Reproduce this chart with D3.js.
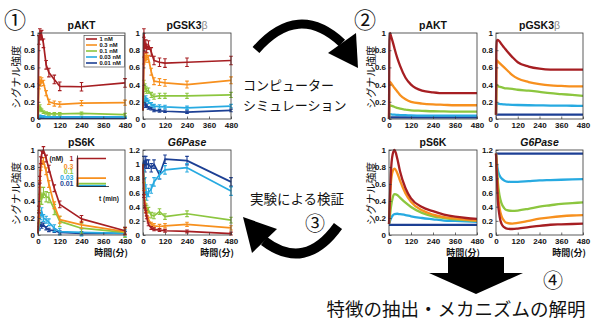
<!DOCTYPE html>
<html><head><meta charset="utf-8">
<script src="https://cdn.jsdelivr.net/npm/d3@7"></script>
<style>body{margin:0;background:#fff}svg{display:block}</style>
</head><body><svg id="c" width="591" height="322"></svg>
<script>
const doses = ["1 nM","0.3 nM","0.1 nM","0.03 nM","0.01 nM"];
const doseShort = ["1","0.3","0.1","0.03","0.01"];
const insetLevels = [1,0.3,0.1,0.03,0.01];
const colors = ["#a61e22","#f7901e","#8cc63f","#27aae1","#1c3f94"];
const xTicks = [0,120,240,360,480];
const yTicks1 = [0,0.2,0.4,0.6,0.8,1];
const yTicks12 = [0,0.2,0.4,0.6,0.8,1,1.2];

// experimental time points (min)
const expTime = [0,5,10,15,20,30,45,60,90,120,240,480];
const expAKT = [
  [0,0.92,1.0,0.97,0.98,0.88,0.63,0.54,0.46,0.38,0.375,0.42],
  [0,0.38,0.46,0.41,0.45,0.42,0.30,0.20,0.18,0.17,0.185,0.19],
  [0,0.12,0.15,0.11,0.10,0.08,0.07,0.06,0.06,0.06,0.065,0.05],
  [0,0.03,0.04,0.035,0.03,0.03,0.025,0.025,0.025,0.025,0.025,0.025],
  [0,0.01,0.015,0.012,0.01,0.01,0.01,0.01,0.01,0.01,0.01,0.01]
];
const errAKT = [0.05,0.03,0.015,0.006,0.004];
const expGSK = [
  [0.1,1.0,0.83,0.87,0.82,0.86,0.78,0.68,0.66,0.65,0.66,0.68],
  [0.1,0.68,0.72,0.70,0.73,0.70,0.55,0.44,0.43,0.42,0.40,0.45],
  [0.1,0.42,0.38,0.35,0.33,0.33,0.28,0.26,0.27,0.27,0.27,0.28],
  [0.1,0.24,0.22,0.25,0.22,0.20,0.17,0.15,0.145,0.14,0.13,0.15],
  [0.1,0.18,0.20,0.15,0.16,0.13,0.12,0.10,0.095,0.09,0.08,0.10]
];
const errGSK = [0.05,0.04,0.03,0.02,0.015];
const expS6K = [
  [0.02,0.3,0.65,0.88,0.95,1.0,0.9,0.78,0.55,0.36,0.19,0.05],
  [0.02,0.25,0.6,0.8,0.84,0.87,0.75,0.6,0.35,0.18,0.12,0.04],
  [0.02,0.2,0.42,0.5,0.42,0.5,0.45,0.44,0.3,0.16,0.08,0.03],
  [0.02,0.1,0.25,0.22,0.28,0.2,0.18,0.15,0.08,0.04,0.03,0.02],
  [0.02,0.08,0.12,0.13,0.10,0.12,0.08,0.06,0.05,0.03,0.02,0.02]
];
const errS6K = [0.04,0.04,0.06,0.04,0.02];
const expG6P = [
  [1.0,0.55,0.4,0.33,0.25,0.15,0.1,0.08,0.07,0.06,0.05,0.02],
  [1.0,0.6,0.42,0.35,0.3,0.22,0.15,0.13,0.12,0.13,0.15,0.1],
  [1.0,0.7,0.45,0.4,0.38,0.35,0.28,0.27,0.33,0.26,0.3,0.21],
  [1.0,0.85,0.75,0.65,0.55,0.6,0.65,0.75,0.85,0.92,0.95,0.62],
  [1.0,1.05,0.95,1.05,1.0,1.0,0.95,1.0,0.85,1.07,1.05,0.75]
];
const errG6P = [0.02,0.03,0.04,0.06,0.06];

// simulation time points (min)
const simTime = [0,2,5,10,20,30,45,60,90,120,180,240,300,360,420,480];
const simAKT = [
  [0,0.85,1.0,0.97,0.9,0.82,0.71,0.62,0.48,0.40,0.33,0.31,0.30,0.30,0.30,0.30],
  [0,0.38,0.43,0.42,0.39,0.36,0.32,0.28,0.23,0.20,0.18,0.17,0.165,0.16,0.16,0.16],
  [0,0.14,0.16,0.155,0.15,0.14,0.13,0.12,0.11,0.10,0.095,0.09,0.088,0.086,0.085,0.085],
  [0,0.05,0.055,0.055,0.05,0.05,0.048,0.046,0.044,0.042,0.04,0.04,0.04,0.04,0.04,0.04],
  [0,0.02,0.02,0.02,0.02,0.02,0.02,0.02,0.02,0.02,0.02,0.02,0.02,0.02,0.02,0.02]
];
const simGSK = [
  [0.05,0.8,0.91,0.92,0.9,0.87,0.83,0.79,0.72,0.66,0.61,0.585,0.575,0.575,0.575,0.575],
  [0.05,0.6,0.68,0.67,0.65,0.63,0.6,0.57,0.51,0.47,0.43,0.405,0.39,0.385,0.38,0.38],
  [0.05,0.35,0.40,0.38,0.375,0.37,0.36,0.355,0.35,0.34,0.33,0.315,0.30,0.29,0.28,0.27],
  [0.05,0.16,0.18,0.178,0.175,0.172,0.17,0.168,0.165,0.163,0.16,0.158,0.156,0.155,0.154,0.153],
  [0.05,0.05,0.05,0.05,0.05,0.05,0.05,0.05,0.05,0.05,0.05,0.05,0.05,0.05,0.05,0.05]
];
const simS6K = [
  [0.13,0.25,0.45,0.72,0.95,1.0,0.9,0.75,0.55,0.43,0.33,0.28,0.24,0.215,0.2,0.19],
  [0.13,0.22,0.38,0.6,0.75,0.78,0.73,0.64,0.49,0.39,0.29,0.24,0.21,0.195,0.18,0.17],
  [0.13,0.16,0.22,0.32,0.44,0.48,0.47,0.44,0.38,0.33,0.26,0.22,0.2,0.185,0.175,0.165],
  [0.13,0.14,0.16,0.19,0.23,0.245,0.25,0.245,0.235,0.22,0.2,0.185,0.17,0.165,0.16,0.155],
  [0.12,0.12,0.12,0.12,0.12,0.12,0.12,0.12,0.12,0.12,0.12,0.12,0.12,0.12,0.12,0.12]
];
const simG6P = [
  [1.15,1.03,0.82,0.5,0.26,0.16,0.11,0.09,0.085,0.09,0.11,0.13,0.145,0.15,0.155,0.16],
  [1.15,1.05,0.88,0.62,0.38,0.27,0.2,0.17,0.16,0.17,0.2,0.23,0.25,0.265,0.275,0.28],
  [1.15,1.08,0.95,0.75,0.55,0.45,0.38,0.35,0.34,0.345,0.37,0.40,0.42,0.44,0.45,0.46],
  [1.15,1.1,1.02,0.92,0.84,0.8,0.77,0.755,0.75,0.75,0.76,0.77,0.775,0.78,0.785,0.79],
  [1.15,1.15,1.15,1.15,1.15,1.15,1.15,1.15,1.15,1.15,1.15,1.15,1.15,1.15,1.15,1.15]
];

const svg = d3.select("#c");
const LAT = "'Liberation Sans', Arial, sans-serif";
const JP = "'Noto Sans CJK JP', sans-serif";
const fmt = d => d === 0 ? "0" : d3.format("~g")(d);

function panel(o){
  const x = d3.scaleLinear().domain([0,480]).range([o.x0,o.x1]);
  const y = d3.scaleLinear().domain([0,o.ymax]).range([o.y1,o.y0]);
  const g = svg.append("g");
  const line = d3.line().x(d=>x(d[0])).y(d=>y(d[1]))
      .curve(o.sim ? d3.curveMonotoneX : d3.curveLinear);
  [4,3,2,1,0].forEach(i=>{
    const pts = o.time.map((t,j)=>[t,o.data[i][j]]);
    g.append("path").attr("d", line(pts)).attr("fill","none")
      .attr("stroke", colors[i]).attr("stroke-width", o.sim ? 2.3 : 1.7)
      .attr("stroke-linejoin","round");
    if (o.err){
      const e = o.err[i];
      pts.forEach((p,j)=>{
        if (j===0) return;
        const xx = x(p[0]);
        g.append("path").attr("d",
          `M${xx},${y(p[1]-e)}V${y(p[1]+e)}M${xx-1.8},${y(p[1]-e)}h3.6M${xx-1.8},${y(p[1]+e)}h3.6`)
          .attr("stroke", colors[i]).attr("stroke-width",1.1).attr("fill","none");
      });
    }
  });
  g.append("rect").attr("x",o.x0).attr("y",o.y0).attr("width",o.x1-o.x0)
    .attr("height",o.y1-o.y0).attr("fill","none").attr("stroke","#333").attr("stroke-width",0.8);
  const ax = g.append("g").attr("transform",`translate(0,${o.y1})`)
    .call(d3.axisBottom(x).tickValues(xTicks).tickSize(-2.5).tickSizeOuter(0).tickPadding(3));
  const ay = g.append("g").attr("transform",`translate(${o.x0},0)`)
    .call(d3.axisLeft(y).tickValues(o.yTicks).tickFormat(fmt).tickSize(-2.5).tickSizeOuter(0).tickPadding(3));
  [ax,ay].forEach(a=>{
    a.select(".domain").remove();
    a.selectAll("line").attr("stroke","#333").attr("stroke-width",0.7);
    a.selectAll("text").attr("font-family",LAT).attr("font-weight","bold")
      .attr("font-size",8).attr("fill","#111");
  });
  const t = g.append("text").attr("x",(o.x0+o.x1)/2).attr("y",o.y0-4)
    .attr("text-anchor","middle").attr("font-family",LAT).attr("font-weight","bold")
    .attr("font-size",10.5).attr("fill","#111");
  if (o.title === "pGSK3β"){
    t.append("tspan").text("pGSK3");
    t.append("tspan").text("β").attr("font-weight","normal").attr("fill","#888");
  } else if (o.title === "G6Pase"){
    t.attr("font-style","italic").text("G6Pase");
  } else t.text(o.title);
  if (o.ylab){
    svg.append("text").attr("transform",`translate(${o.ylab},${(o.y0+o.y1)/2+1}) rotate(-90)`)
      .attr("text-anchor","middle").attr("dominant-baseline","central")
      .attr("font-family",JP).attr("font-size",10.5).attr("fill","#111").text("シグナル強度");
  }
  if (o.xlab){
    svg.append("text").attr("x",o.x1+3).attr("y",o.y1+21).attr("text-anchor","end")
      .attr("font-family",JP).attr("font-weight","bold").attr("font-size",9).attr("fill","#111").text("時間(分)");
  }
  return {x,y,g};
}

// experimental panels
panel({x0:38,x1:125,y0:33,y1:119,ymax:1,yTicks:yTicks1,title:"pAKT",data:expAKT,time:expTime,err:errAKT,ylab:15});
panel({x0:143,x1:231,y0:33,y1:119,ymax:1,yTicks:yTicks1,title:"pGSK3β",data:expGSK,time:expTime,err:errGSK});
panel({x0:38,x1:125,y0:150,y1:235,ymax:1,yTicks:yTicks1,title:"pS6K",data:expS6K,time:expTime,err:errS6K,ylab:15,xlab:true});
panel({x0:143,x1:231,y0:150,y1:235,ymax:1.2,yTicks:yTicks12,title:"G6Pase",data:expG6P,time:expTime,err:errG6P,xlab:true});
// simulation panels
panel({x0:389,x1:477,y0:33,y1:119,ymax:1,yTicks:yTicks1,title:"pAKT",data:simAKT,time:simTime,sim:true,ylab:370});
panel({x0:496,x1:583,y0:33,y1:119,ymax:1,yTicks:yTicks1,title:"pGSK3β",data:simGSK,time:simTime,sim:true});
panel({x0:389,x1:477,y0:150,y1:235,ymax:1,yTicks:yTicks1,title:"pS6K",data:simS6K,time:simTime,sim:true,ylab:370,xlab:true});
panel({x0:496,x1:583,y0:150,y1:235,ymax:1.2,yTicks:yTicks12,title:"G6Pase",data:simG6P,time:simTime,sim:true,xlab:true});

// legend in experimental pAKT
const lg = svg.append("g");
lg.append("rect").attr("x",84).attr("y",35.5).attr("width",40.5).attr("height",31.5)
  .attr("fill","#fff").attr("stroke","#333").attr("stroke-width",0.6);
doses.forEach((d,i)=>{
  const yy = 39 + i*6;
  lg.append("line").attr("x1",86).attr("x2",97).attr("y1",yy).attr("y2",yy)
    .attr("stroke",colors[i]).attr("stroke-width",1.6);
  lg.append("text").attr("x",99.5).attr("y",yy+2.1).attr("font-family",LAT).attr("font-weight","bold")
    .attr("font-size",5.8).attr("fill","#111").text(d);
});

// inset in experimental pS6K
const ix = d3.scaleLinear().domain([0,1]).range([77.5,106]);
const iy = d3.scaleLinear().domain([0,1]).range([186.5,158.5]);
const ins = svg.append("g");
[4,3,2,1,0].forEach(i=>{
  ins.append("path").attr("d",`M${ix(0)},${iy(0)}V${iy(insetLevels[i])}H${ix(1)}`)
    .attr("fill","none").attr("stroke",colors[i]).attr("stroke-width",1.7);
  ins.append("text").attr("x",73.5).attr("y",[160.5,168.5,174,180,185.5][i])
    .attr("text-anchor","end").attr("font-family",LAT).attr("font-weight","bold")
    .attr("font-size",7).attr("fill",colors[i]).text(doseShort[i]);
});
ins.append("path").attr("d",`M${ix(0)},${iy(1)-3}V${iy(0)}H${ix(1)+3}`)
  .attr("fill","none").attr("stroke","#222").attr("stroke-width",0.8);
ins.append("text").attr("x",49.5).attr("y",160.5).attr("font-family",LAT).attr("font-weight","bold")
  .attr("font-size",6.5).attr("fill","#111").text("(nM)");
ins.append("text").attr("x",99).attr("y",201).attr("font-family",LAT).attr("font-weight","bold")
  .attr("font-size",6.5).attr("fill","#111").text("t (min)");

// circled numbers
[["①",15,28,22],["②",365,28,22],["③",315,231,20],["④",553,288,20]].forEach(c=>{
  svg.append("text").attr("x",c[1]).attr("y",c[2]).attr("text-anchor","middle")
    .attr("font-family",JP).attr("font-size",c[3]).attr("fill","#111").text(c[0]);
});

// arrows
svg.append("path").attr("d","M256,50 Q298,2 342,43").attr("fill","none")
  .attr("stroke","#000").attr("stroke-width",9);
svg.append("path").attr("d","M328,53 L356,33 L358,68 Z").attr("fill","#000");
svg.append("path").attr("d","M338,226 Q305,272 264,241").attr("fill","none")
  .attr("stroke","#000").attr("stroke-width",10);
svg.append("path").attr("d","M252,253 L277,229 L243,217 Z").attr("fill","#000");
svg.append("path").attr("d","M448,257 H504 V273 H523 L476,294 L429,273 H448 Z").attr("fill","#000");

// texts
svg.append("text").attr("x",243).attr("y",90).attr("font-family",JP).attr("font-size",13)
  .attr("fill","#111").text("コンピューター");
svg.append("text").attr("x",243).attr("y",110).attr("font-family",JP).attr("font-size",13)
  .attr("fill","#111").text("シミュレーション");
svg.append("text").attr("x",250).attr("y",204).attr("font-family",JP).attr("font-size",13.5)
  .attr("fill","#111").text("実験による検証");
svg.append("text").attr("x",456).attr("y",316).attr("text-anchor","middle").attr("font-family",JP)
  .attr("font-size",18.5).attr("fill","#111").text("特徴の抽出・メカニズムの解明");
</script></body></html>
